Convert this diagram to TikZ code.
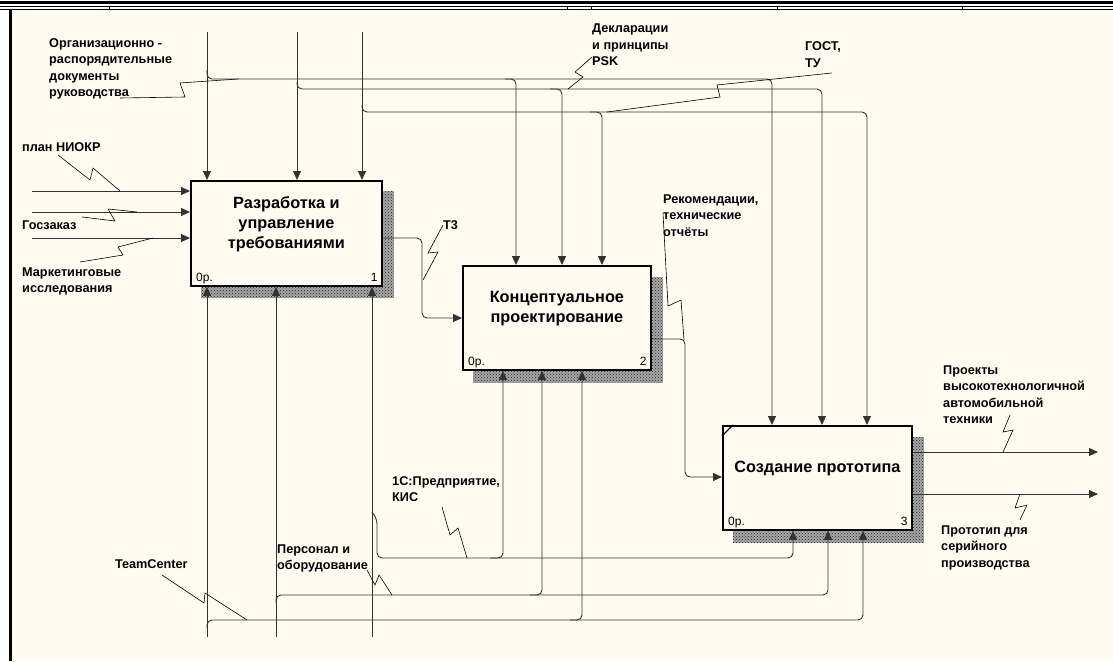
\documentclass[tikz,border=0pt]{standalone}
\usepackage{fontspec}
\setmainfont{Liberation Sans}
\usetikzlibrary{arrows.meta,patterns,backgrounds}
\definecolor{bgc}{HTML}{FFFBF0}
\begin{document}
\begin{tikzpicture}[x=1pt,y=-1pt,
  conn/.style={draw=black!80,line width=0.9pt,rounded corners=5pt},
  arr/.style={conn,-{Triangle[length=9pt,width=8pt]}},
  squig/.style={draw=black,line width=0.6pt},
  box/.style={draw=black,line width=1.8pt,fill=bgc,anchor=north west,inner sep=0pt},
  boxtext/.style={font=\fontsize{16.3}{20}\selectfont\bfseries,align=center,inner sep=0pt},
  lbl/.style={font=\fontsize{12.7}{16.5}\selectfont\bfseries,align=left,anchor=base west,inner sep=0pt},
  corner/.style={font=\fontsize{12}{14}\selectfont,inner sep=0pt},
  shadowb/.style={fill=black!35},
  shadowp/.style={pattern=crosshatch dots,pattern color=black!85}
]
\useasboundingbox (0,0) rectangle (1113,661);

% boxes
\node[box,minimum width=191pt,minimum height=105pt] (b1) at (190,180) {};
\node[box,minimum width=188pt,minimum height=104pt] (b2) at (462,265) {};
\node[box,minimum width=189pt,minimum height=104pt] (b3) at (722,425) {};

\begin{scope}[on background layer]
  \fill[bgc] (0,0) rectangle (1113,661);
  \fill[white] (0,0) rectangle (1113,10.5);
  \fill[white] (0,10) rectangle (8.5,661);
  \foreach \b/\dy in {b1/11,b2/12,b3/12} {
    \fill[shadowb] ([shift={(11,\dy)}]\b.north west) rectangle ([shift={(11,\dy)}]\b.south east);
    \fill[shadowp] ([shift={(11,\dy)}]\b.north west) rectangle ([shift={(11,\dy)}]\b.south east);
  }
\end{scope}

% frame
\draw[line width=2.5pt] (0,2.7) -- (1113,2.7);
\draw[line width=1.4pt] (0,6.6) -- (1113,6.6);
\draw[line width=1pt] (0,9.8) -- (1113,9.8);
\draw[line width=3pt] (10,9.5) -- (10,661);
\foreach \x in {109,567,591,777,962} \draw[line width=0.8pt] (\x,6.6) -- (\x,9.8);

% box texts
\node[boxtext] (b1t) at ([yshift=9pt]b1.center) {Разработка и\\управление\\требованиями};
\node[boxtext] (b2t) at ([yshift=9pt]b2.center) {Концептуальное\\проектирование};
\node[boxtext] (b3t) at ([yshift=9pt]b3.center) {Создание прототипа};
\node[corner,anchor=base west] (b1l) at ([shift={(6,-5)}]b1.south west) {0р.};
\node[corner,anchor=base east] (b1r) at ([shift={(-5,-5)}]b1.south east) {1};
\node[corner,anchor=base west] (b2l) at ([shift={(6,-5)}]b2.south west) {0р.};
\node[corner,anchor=base east] (b2r) at ([shift={(-5,-5)}]b2.south east) {2};
\node[corner,anchor=base west] (b3l) at ([shift={(6,-5)}]b3.south west) {0р.};
\node[corner,anchor=base east] (b3r) at ([shift={(-5,-5)}]b3.south east) {3};
\draw[line width=1.2pt] ([shift={(0,11)}]b3.north west) -- ([shift={(11,0)}]b3.north west);

% free ends
\coordinate (c1) at (207,32);
\coordinate (c2) at (297,32);
\coordinate (c3) at (362,32);
\coordinate (i1) at (32,191);
\coordinate (i2) at (32,212);
\coordinate (i3) at (32,238);
\coordinate (m1) at (207,637);
\coordinate (m2) at (276,637);
\coordinate (m3) at (372,637);
\coordinate (o1) at (1098,452);
\coordinate (o2) at (1098,494);

% controls
\draw[arr] (c1) -- (c1 |- b1.north);
\draw[arr] (c2) -- (c2 |- b1.north);
\draw[arr] (c3) -- (c3 |- b1.north);
\draw[arr] (207,70) -- (207,79) -- (772,79) -- (772,0 |- b3.north);
\draw[arr] (505,79) -- (516,79) -- (516,0 |- b2.north);
\draw[arr] (297,82) -- (297,89) -- (822,89) -- (822,0 |- b3.north);
\draw[arr] (550,89) -- (562,89) -- (562,0 |- b2.north);
\draw[arr] (362,105) -- (362,112) -- (867,112) -- (867,0 |- b3.north);
\draw[arr] (590,112) -- (602,112) -- (602,0 |- b2.north);

% inputs
\draw[arr] (i1) -- (i1 -| b1.west);
\draw[arr] (i2) -- (i2 -| b1.west);
\draw[arr] (i3) -- (i3 -| b1.west);

% flows
\draw[arr] (b1.east |- 0,238) -- (422,238) -- (422,318) -- (b2.west |- 0,318);
\draw[arr] (b2.east |- 0,339) -- (685,339) -- (685,477) -- (b3.west |- 0,477);
\draw[arr] (b3.east |- 0,452) -- (o1);
\draw[arr] (b3.east |- 0,494) -- (o2);

% mechanisms
\draw[arr] (m1) -- (m1 |- b1.south);
\draw[arr] (m2) -- (m2 |- b1.south);
\draw[arr] (m3) -- (m3 |- b1.south);
\draw[arr] (207,628) -- (207,620) -- (863,620) -- (863,0 |- b3.south);
\draw[arr] (570,620) -- (582,620) -- (582,0 |- b2.south);
\draw[arr] (276,603) -- (276,595) -- (828,595) -- (828,0 |- b3.south);
\draw[arr] (530,595) -- (542,595) -- (542,0 |- b2.south);
\draw[arr] (372,512) -- (377,519) -- (377,558) -- (793,558) -- (793,0 |- b3.south);
\draw[arr] (490,558) -- (503,558) -- (503,0 |- b2.south);

% labels (anchor at baseline of the last line)
\node[lbl] (lorg) at (49,96.5) {Организационно -\\распорядительные\\документы\\руководства};
\node[lbl] (lplan) at (22,151) {план НИОКР};
\node[lbl] (lgos) at (22,229) {Госзаказ};
\node[lbl] (lmark) at (22,292.5) {Маркетинговые\\исследования};
\node[lbl] (lpsk) at (592,66) {Декларации\\и принципы\\PSK};
\node[lbl] (lgost) at (805,67) {ГОСТ,\\ТУ};
\node[lbl] (lt3) at (443,229) {Т3};
\node[lbl] (lrec) at (663,236) {Рекомендации,\\технические\\отчёты};
\node[lbl] (lproj) at (943,423.5) {Проекты\\высокотехнологичной\\автомобильной\\техники};
\node[lbl] (lprot) at (941,567) {Прототип для\\серийного\\производства};
\node[lbl] (l1c) at (392,501.5) {1С:Предприятие,\\КИС};
\node[lbl] (lpers) at (277,569.5) {Персонал и\\оборудование};
\node[lbl] (ltc) at (115,568) {TeamCenter};

% squiggles
\draw[squig] (120,98) -- (185,97) -- (180,83) -- (238,79);
\draw[squig] (592,57) -- (575,72) -- (583,77) -- (568,89);
\draw[squig] (832,73) -- (717,85) -- (720,97) -- (607,112);
\draw[squig] (443,225) -- (428,253) -- (438,252) -- (423,280);
\draw[squig] (663,213) -- (668,306) -- (681,300) -- (684,340);
\draw[squig] (58,155) -- (90,180) -- (93,168) -- (120,191);
\draw[squig] (82,217) -- (115,221) -- (108,209) -- (137,212);
\draw[squig] (80,262) -- (123,255) -- (118,247) -- (153,238);
\draw[squig] (1010,415) -- (1003,432) -- (1013,430) -- (1003,452);
\draw[squig] (1020,494) -- (1015,508) -- (1027,505) -- (1020,520);
\draw[squig] (442,507) -- (450,535) -- (458,528) -- (467,558);
\draw[squig] (367,570) -- (375,585) -- (379,575) -- (392,595);
\draw[squig] (162,575) -- (204,603) -- (205,593) -- (247,620);
\end{tikzpicture}
\end{document}
